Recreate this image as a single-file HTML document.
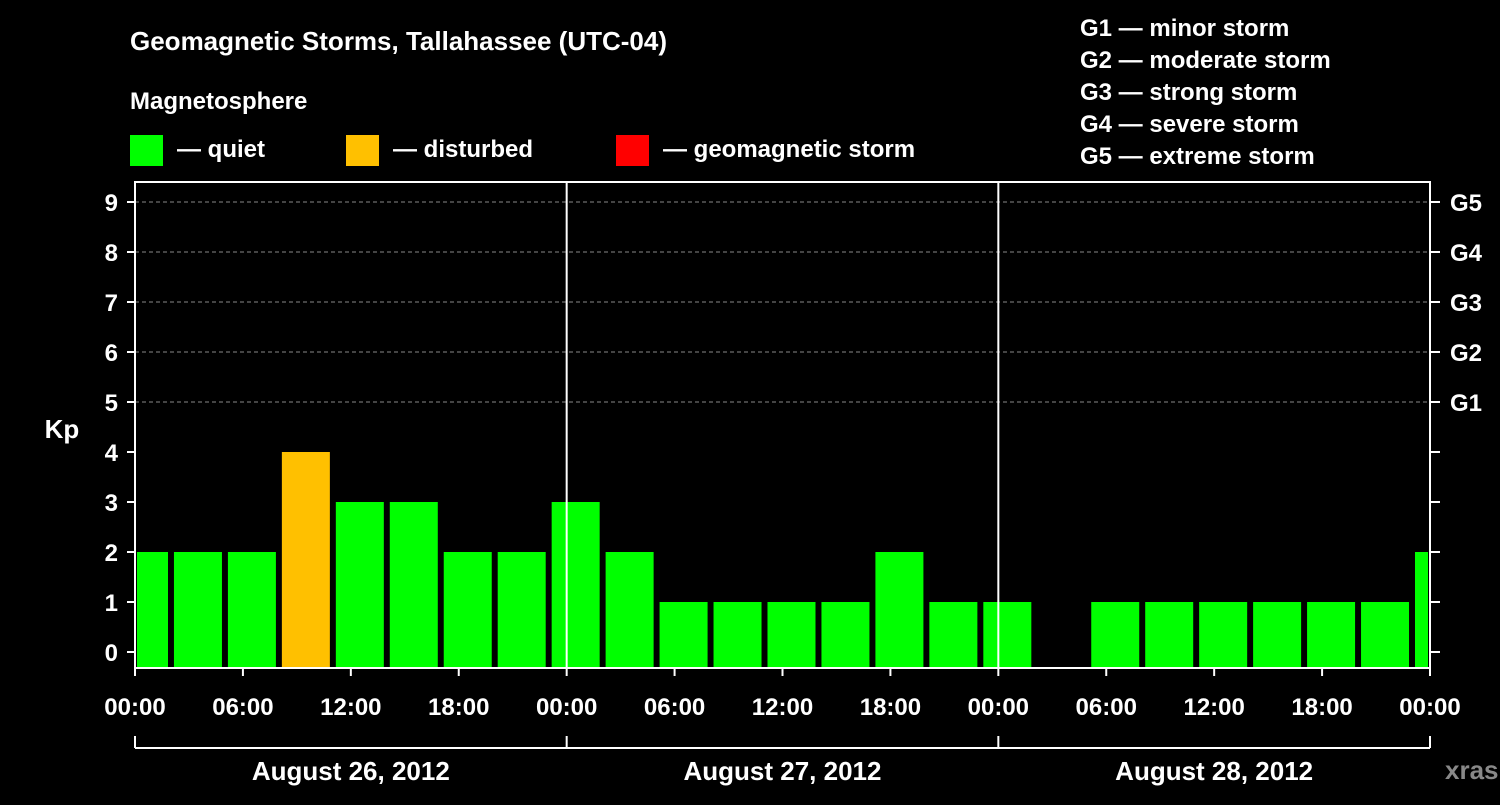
<!DOCTYPE html>
<html><head><meta charset="utf-8"><style>
html,body{margin:0;padding:0;background:#000;}
svg text{font-family:"Liberation Sans",Arial,sans-serif;font-weight:bold;fill:#fff;}
</style></head><body>
<svg width="1500" height="800" viewBox="0 0 1500 800" xmlns="http://www.w3.org/2000/svg">
<rect width="1500" height="800" fill="#000"/>
<text x="130" y="50" font-size="26">Geomagnetic Storms, Tallahassee (UTC-04)</text>
<text x="130" y="109" font-size="24">Magnetosphere</text>
<g><rect x="130" y="135" width="33" height="31" fill="#00ff00"/><text x="177" y="157" font-size="24">— quiet</text></g>
<g><rect x="346" y="135" width="33" height="31" fill="#ffc000"/><text x="393" y="157" font-size="24">— disturbed</text></g>
<g><rect x="616" y="135" width="33" height="31" fill="#ff0000"/><text x="663" y="157" font-size="24">— geomagnetic storm</text></g>
<g font-size="24">
<text x="1080" y="36">G1 — minor storm</text>
<text x="1080" y="68">G2 — moderate storm</text>
<text x="1080" y="100">G3 — strong storm</text>
<text x="1080" y="132">G4 — severe storm</text>
<text x="1080" y="164">G5 — extreme storm</text>
</g>
<g id="grid"></g>
<g id="bars"></g>
<g id="axes"></g>
<text x="62" y="438" font-size="26" text-anchor="middle">Kp</text>
<text x="1445" y="779" font-size="26" fill="#888" style="fill:#888">xras.ru</text>
</svg>
<script>
const kpValues = [2,2,2,4,3,3,2,2,3,2,1,1,1,1,2,1,1,null,1,1,1,1,1,1,2];
const yTicks = [0,1,2,3,4,5,6,7,8,9];
const gLabels = ["G1","G2","G3","G4","G5"];
const xTickLabels = ["00:00","06:00","12:00","18:00","00:00","06:00","12:00","18:00","00:00","06:00","12:00","18:00","00:00"];
const dayLabels = ["August 26, 2012","August 27, 2012","August 28, 2012"];
const NS="http://www.w3.org/2000/svg";
const L=135,R=1430,T=182,B=668;
const hourPx=(R-L)/72;
function y(v){return 652-v*50;}
function x(h){return L+h*hourPx;}
function mk(tag,attrs,parent){const e=document.createElementNS(NS,tag);for(const k in attrs)e.setAttribute(k,attrs[k]);parent.appendChild(e);return e;}
const grid=document.getElementById('grid'),bars=document.getElementById('bars'),axes=document.getElementById('axes');
yTicks.forEach(v=>{if(v>=5){const l=mk('line',{x1:L,x2:R,y1:y(v),y2:y(v),stroke:'#888','stroke-dasharray':'4,3','stroke-width':1},grid);

}});
kpValues.forEach((v,i)=>{if(v===null)return;
const c=(i*3+0.5)*hourPx+L;let x0=Math.max(c-24,L+2),x1=Math.min(c+24,R-2);
const r=mk('rect',{x:x0,y:y(v),width:x1-x0,height:B-y(v),fill:v>=5?'#ff0000':(v>=4?'#ffc000':'#00ff00')},bars);

});
const frame=mk('rect',{x:L,y:T,width:R-L,height:B-T,fill:'none',stroke:'#fff','stroke-width':2},axes);


[24,48].forEach(h=>{const d=mk('line',{x1:x(h),x2:x(h),y1:T,y2:B,stroke:'#fff','stroke-width':2},axes);

});
yTicks.forEach(v=>{mk('line',{x1:L-8,x2:L,y1:y(v),y2:y(v),stroke:'#fff','stroke-width':2},axes);
mk('line',{x1:R,x2:R+10,y1:y(v),y2:y(v),stroke:'#fff','stroke-width':2},axes);
const t=mk('text',{x:118,y:y(v)+9,'font-size':24,'text-anchor':'end'},axes);t.textContent=v;

});
gLabels.forEach((g,i)=>{const t=mk('text',{x:1450,y:y(5+i)+9,'font-size':24},axes);t.textContent=g;

});
xTickLabels.forEach((s,i)=>{const h=i*6;mk('line',{x1:x(h),x2:x(h),y1:B,y2:B+8,stroke:'#fff','stroke-width':2},axes);
const t=mk('text',{x:x(h),y:715,'font-size':24,'text-anchor':'middle'},axes);t.textContent=s;

});
mk('line',{x1:L,x2:R,y1:748,y2:748,stroke:'#fff','stroke-width':2},axes);
[0,24,48,72].forEach(h=>mk('line',{x1:x(h),x2:x(h),y1:736,y2:748,stroke:'#fff','stroke-width':2},axes));
dayLabels.forEach((s,i)=>{const t=mk('text',{x:x(i*24+12),y:780,'font-size':26,'text-anchor':'middle'},axes);t.textContent=s;

});
</script>
</body></html>
